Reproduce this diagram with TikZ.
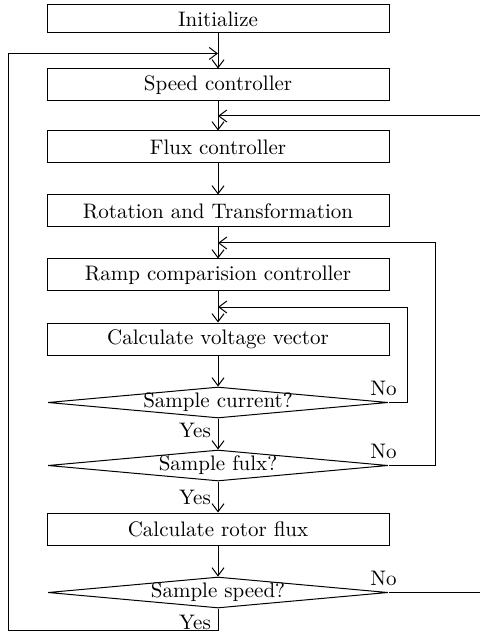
\documentclass[tikz,border=0pt]{standalone}
\usetikzlibrary{positioning, arrows.meta, calc, shapes.geometric}

\begin{document}
\begin{tikzpicture}[x=0.5pt, y=-0.5pt, node distance=15.5pt, font=\fontsize{10.5pt}{12pt}\selectfont, line width=0.5pt]

% --- Styles ---
\tikzset{
    procbox/.style={rectangle, draw, minimum width=171pt, minimum height=16pt, inner sep=1pt},
    decide/.style={diamond, draw, aspect=11, inner sep=0pt, minimum width=170pt, minimum height=15.5pt},
    flow/.style={-{Straight Barb[length=4pt, width=6pt]}},
}

\useasboundingbox (0,0) rectangle (480,640);

% --- Main column ---
\node[procbox, minimum height=14pt] (init) at (218,19) {Initialize};
\node[procbox, below=17.5pt of init] (spd) {Speed controller};
\node[procbox, below=14.5pt of spd] (flx) {Flux controller};
\node[procbox, below=of flx] (rot) {Rotation and Transformation};
\node[procbox, below=of rot] (ramp) {Ramp comparision controller};
\node[procbox, below=of ramp] (volt) {Calculate voltage vector};
\node[decide, below=of volt] (cur) {\makebox[0pt]{Sample current?}};
\node[decide, below=of cur] (flu) {\makebox[0pt]{Sample fulx?}};
\node[procbox, below=of flu] (rotor) {Calculate rotor flux};
\node[decide, below=of rotor] (sspd) {\makebox[0pt]{Sample speed?}};

% --- Helper coordinates for the loops ---
\coordinate (lx) at (8,0);
\coordinate (rx) at (480,0);
\coordinate (rc) at (407,0);
\coordinate (rf) at (435,0);
\coordinate (jl) at ($(init.south)!0.57!(spd.north)$);
\coordinate (jt) at ($(spd.south)!0.5!(flx.north)$);
\coordinate (jf) at ($(rot.south)!0.5!(ramp.north)$);
\coordinate (jc) at ($(ramp.south)!0.5!(volt.north)$);
\coordinate (bl) at ([yshift=-11pt]sspd.south);

% --- Straight flow ---
\draw[flow] (init) -- (spd);
\draw[flow] (spd) -- (flx);
\draw[flow] (flx) -- (rot);
\draw[flow] (rot) -- (ramp);
\draw[flow] (ramp) -- (volt);
\draw[flow] (volt) -- (cur);
\draw[flow] (cur) -- node[left, yshift=2pt] {Yes} (flu);
\draw[flow] (flu) -- node[left] {Yes} (rotor);
\draw[flow] (rotor) -- (sspd);

% --- Loops back ---
\draw[flow] (cur.east) -- node[pos=0, above, xshift=-2.5pt] {No} (cur.east -| rc) |- (jc);
\draw[flow] (flu.east) -- node[pos=0, above, xshift=-2.5pt] {No} (flu.east -| rf) |- (jf);
\draw (sspd.east) -- node[pos=0, above, xshift=-2.5pt] {No} (sspd.east -| rx);
\draw[flow] (jt -| rx) -- (jt);
\draw[flow] (sspd.south) -- node[left, pos=0.65] {Yes} (bl) -- (bl -| lx) |- (jl);

\end{tikzpicture}
\end{document}
